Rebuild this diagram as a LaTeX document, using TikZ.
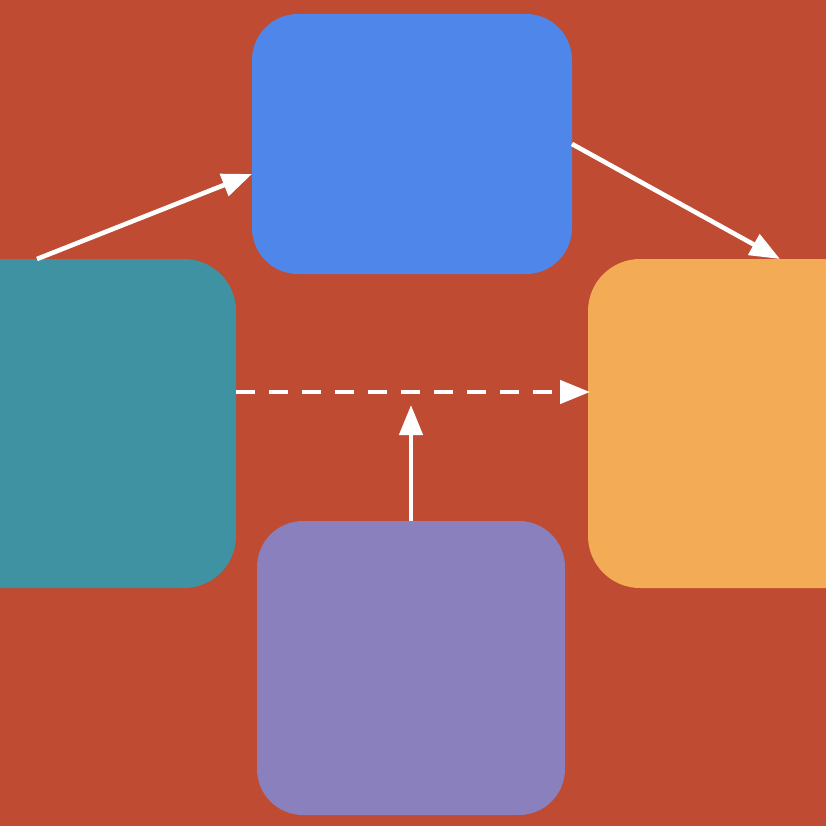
\documentclass[tikz,border=0pt]{standalone}
\usetikzlibrary{arrows.meta}
\definecolor{bgred}{HTML}{BE4B32}
\definecolor{boxblue}{HTML}{4F86EA}
\definecolor{boxteal}{HTML}{3F92A2}
\definecolor{boxorange}{HTML}{F3AC55}
\definecolor{boxpurple}{HTML}{8980BD}
\begin{document}
\begin{tikzpicture}[x=1pt,y=-1pt,
  card/.style={rounded corners=#1, draw=none, inner sep=0pt, outer sep=0pt},
  card/.default=46pt,
  link/.style={draw=white, line width=4.6pt, -{Triangle[length=30pt,width=23pt]}},
  dashlink/.style={link, dash pattern=on 19pt off 14pt}]
  % canvas
  \fill[bgred] (0,0) rectangle (826,826);
  \useasboundingbox (0,0) rectangle (826,826);
  \begin{scope}
    \clip (0,0) rectangle (826,826);
    \node[card, fill=boxblue, minimum width=320pt, minimum height=260pt] (blue) at (412,144) {};
    \node[card=52pt, fill=boxteal, minimum width=326pt, minimum height=329pt] (teal) at (73,423.5) {};
    \node[card=52pt, fill=boxorange, minimum width=326pt, minimum height=329pt] (orange) at (751,423.5) {};
    \node[card, fill=boxpurple, minimum width=308pt, minimum height=294pt] (purple) at (411,668) {};
  \end{scope}
  % connectors
  \coordinate (dashmid) at (411,392);
  \draw[link] (37,0 |- teal.north) -- (blue.west |- 0,174);
  \draw[link] (blue.east) -- (780,0 |- orange.north);
  \draw[dashlink] (teal.east |- dashmid) -- ([xshift=2pt]orange.west |- dashmid);
  \draw[link, shorten >=13pt] (purple.north) -- (dashmid);
\end{tikzpicture}
\end{document}
